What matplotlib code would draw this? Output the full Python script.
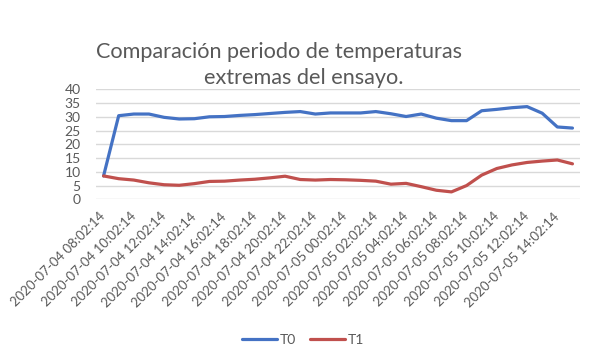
import matplotlib
matplotlib.use("Agg")
import matplotlib.pyplot as plt

plt.rcParams['font.family'] = ['Lato', 'DejaVu Sans']

# horas de medida (una por hora) y etiquetas cada 2 horas
etiquetas = ["2020-07-04 08:02:14", "2020-07-04 10:02:14", "2020-07-04 12:02:14",
             "2020-07-04 14:02:14", "2020-07-04 16:02:14", "2020-07-04 18:02:14",
             "2020-07-04 20:02:14", "2020-07-04 22:02:14", "2020-07-05 00:02:14",
             "2020-07-05 02:02:14", "2020-07-05 04:02:14", "2020-07-05 06:02:14",
             "2020-07-05 08:02:14", "2020-07-05 10:02:14", "2020-07-05 12:02:14",
             "2020-07-05 14:02:14"]

# temperaturas
t0 = [8.5, 30.4, 31.0, 31.0, 29.8, 29.2, 29.3, 30.0, 30.1, 30.5, 30.8, 31.2,
      31.6, 31.9, 31.0, 31.4, 31.4, 31.4, 31.9, 31.1, 30.1, 31.0, 29.5, 28.6,
      28.6, 32.2, 32.7, 33.3, 33.7, 31.3, 26.3, 25.9]
t1 = [8.5, 7.5, 7.0, 6.0, 5.3, 5.1, 5.7, 6.5, 6.6, 7.0, 7.3, 7.8,
      8.4, 7.2, 7.0, 7.2, 7.1, 6.9, 6.6, 5.5, 5.8, 4.6, 3.3, 2.7,
      5.0, 8.8, 11.2, 12.5, 13.4, 13.9, 14.3, 12.9]

gris = "#595959"

fig = plt.figure(figsize=(6, 3.59), dpi=100)
ax = fig.add_axes([0.16, 0.4448, 0.8067, 0.3065])

x = list(range(len(t0)))
ax.plot(x, t0, color="#4472C4", lw=2.3, label="T0", solid_capstyle="round")
ax.plot(x, t1, color="#C0504D", lw=2.3, label="T1", solid_capstyle="round")

ax.set_xlim(-0.5, len(t0) - 0.5)
ax.set_ylim(0, 40)
ax.set_yticks(range(0, 41, 5))
ax.set_xticks(x[::2], etiquetas)
ax.grid(axis="y", color="#D9D9D9", lw=1)
ax.set_axisbelow(True)
for s in ax.spines.values():
    s.set_visible(False)
ax.tick_params(axis="y", length=0, pad=11, labelsize=10, labelcolor=gris)
ax.tick_params(axis="x", length=0, pad=11, labelsize=9.5, labelcolor=gris)
for lb in ax.get_xticklabels():
    lb.set_rotation(45)
    lb.set_ha("right")
    lb.set_va("center")
    lb.set_rotation_mode("anchor")

fig.text(0.465, 0.855, "Comparación periodo de temperaturas", ha="center", va="center",
         fontsize=15.6, color=gris)
fig.text(0.507, 0.783, "extremas del ensayo.", ha="center", va="center",
         fontsize=15.6, color=gris)

fig.legend(loc="center", bbox_to_anchor=(0.505, 0.053), ncol=2, frameon=False,
           fontsize=10, handlelength=2.5, handletextpad=0.2, columnspacing=1.0,
           labelcolor=gris)

fig.savefig("out.png", dpi=100)
